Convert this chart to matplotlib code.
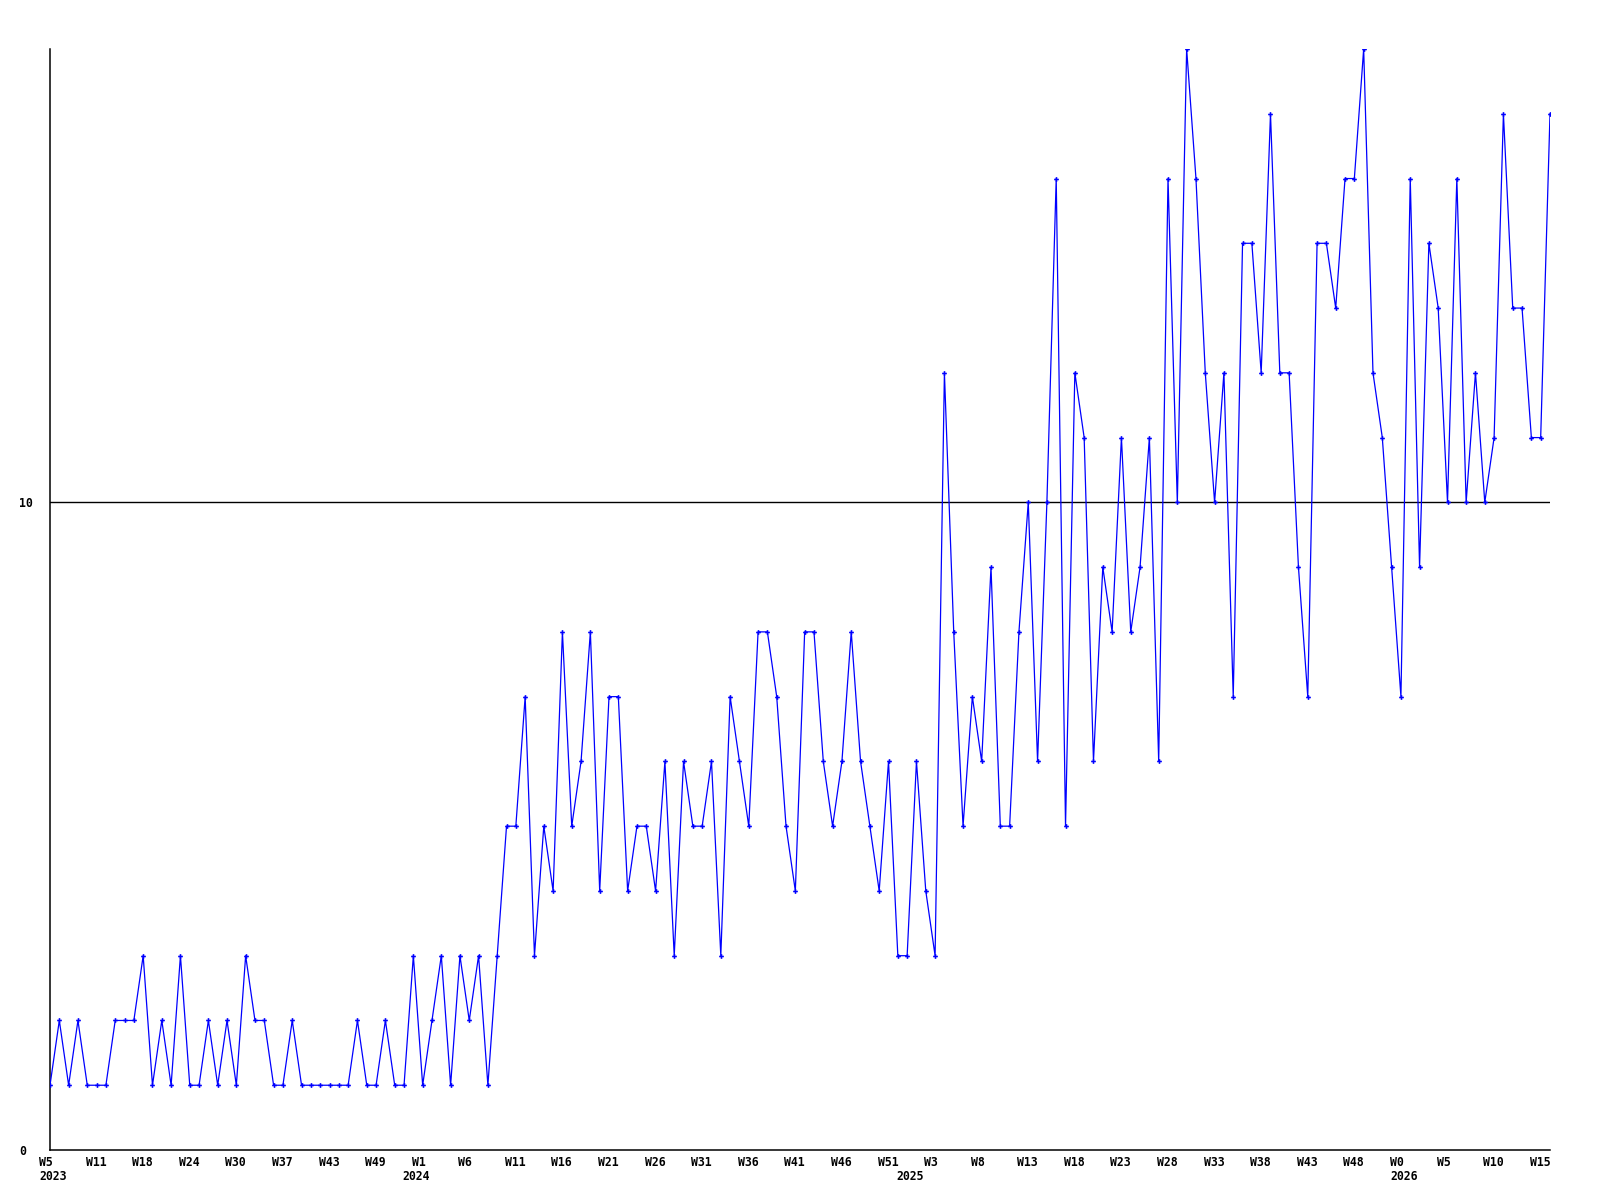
import matplotlib
matplotlib.use("Agg")
import matplotlib.pyplot as plt
from matplotlib.transforms import blended_transform_factory

# ---- data ----
counts_2023 = [1, 2, 1, 2, 1, 1, 1, 2, 2, 2, 3, 1, 2, 1, 3, 1, 1, 2, 1, 2,
               1, 3, 2, 2, 1, 1, 2, 1, 1, 1, 1, 1, 1, 2, 1, 1, 2, 1, 1, 3]
counts_2024 = [1, 2, 3, 1, 3, 2, 3, 1, 3, 5, 5, 7, 3, 5, 4, 8, 5, 6, 8, 4,
               7, 7, 4, 5, 5, 4, 6, 3, 6, 5, 5, 6, 3, 7, 6, 5, 8, 8, 7, 5,
               4, 8, 8, 6, 5, 6, 8, 6, 5, 4, 6, 3]
counts_2025 = [3, 6, 4, 3, 12, 8, 5, 7, 6, 9, 5, 5, 8, 10, 6, 10, 15, 5, 12, 11,
               6, 9, 8, 11, 8, 9, 11, 6, 15, 10, 17, 15, 12, 10, 12, 7, 14, 14, 12, 16,
               12, 12, 9, 7, 14, 14, 13, 15, 15, 17, 12, 11, 9]
counts_2026 = [7, 15, 9, 14, 13, 10, 15, 10, 12, 10, 11, 16, 13, 13, 11, 11, 16]

values = counts_2023 + counts_2024 + counts_2025 + counts_2026

week_labels = ["W5", "W11", "W18", "W24", "W30", "W37", "W43", "W49",
               "W1", "W6", "W11", "W16", "W21", "W26", "W31", "W36", "W41",
               "W46", "W51", "W3", "W8", "W13", "W18", "W23", "W28", "W33",
               "W38", "W43", "W48", "W0", "W5", "W10", "W15"]
label_every = 5
year_labels = ["2023", "2024", "2025", "2026"]
year_label_index = [0, 39, 92, 145]
ytick_values = [0, 10]
reference_level = 10
y_max = 17

# ---- figure ----
W, H, DPI = 1600, 1200, 100
fig = plt.figure(figsize=(W / DPI, H / DPI), dpi=DPI, facecolor="white")
ax = fig.add_axes([50 / W, 50 / H, 1500 / W, 1101 / H])

font = dict(family="DejaVu Sans Mono", weight="bold", size=8.3)

x = list(range(len(values)))
ax.axhline(reference_level, color="black", lw=1.0, zorder=1)
ax.plot(x, values, color="#0000ff", lw=0.9, marker="P", ms=3.4,
        mew=0, zorder=3, clip_on=True)

ax.set_xlim(0, len(values) - 1)
ax.set_ylim(0, y_max)

for s in ["top", "right"]:
    ax.spines[s].set_visible(False)
for s in ["left", "bottom"]:
    ax.spines[s].set_linewidth(1.1)
    ax.spines[s].set_color("black")

# y ticks
ax.set_yticks(ytick_values)
ax.set_yticklabels([str(v) for v in ytick_values], fontdict=font)
ax.tick_params(axis="y", length=0, pad=22.3)
for lab in ax.get_yticklabels():
    lab.set_horizontalalignment("left")

# x labels (week + year lines)
ax.set_xticks([])
trans = blended_transform_factory(ax.transData, ax.transAxes)
px = 72.0 / DPI
for k, lab in enumerate(week_labels):
    ax.annotate(lab, xy=(k * label_every, 0), xycoords=trans,
                xytext=(-11 * px, -12 * px), textcoords="offset points",
                ha="left", va="center", annotation_clip=False, **font)
for idx, lab in zip(year_label_index, year_labels):
    ax.annotate(lab, xy=(idx, 0), xycoords=trans,
                xytext=(-11 * px, -27 * px), textcoords="offset points",
                ha="left", va="center", annotation_clip=False, **font)

fig.savefig("out.png", dpi=DPI, facecolor="white")
